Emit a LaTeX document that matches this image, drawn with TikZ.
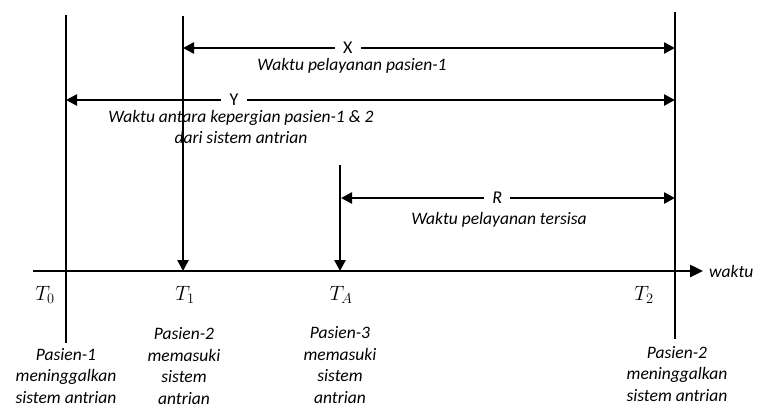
\documentclass[tikz,border=0pt]{standalone}
\usepackage{fontspec}
\setmainfont{Carlito}
\usetikzlibrary{arrows.meta}
\begin{document}
\begin{tikzpicture}[x=1pt,y=-1pt,
  vline/.style={line width=2.7pt},
  dimarrow/.style={line width=2.5pt,{Triangle[length=11pt,width=11pt]}-{Triangle[length=11pt,width=11pt]}},
  downarrow/.style={line width=2.5pt,-{Triangle[length=11pt,width=11pt]}},
  axisarrow/.style={line width=2.5pt,-{Triangle[length=13pt,width=12pt]}},
  lbl/.style={font=\fontsize{17.5}{21.7}\selectfont\itshape,align=center,inner sep=0pt},
  mid/.style={fill=white,font=\fontsize{18}{20}\selectfont,inner xsep=0pt,inner ysep=0pt,minimum width=26pt},
  tlbl/.style={font=\fontsize{20}{22}\selectfont,inner sep=0pt}]
\useasboundingbox (0,0) rectangle (765,408);
% key coordinates
\coordinate (t0top) at (66,15);
\coordinate (t0bot) at (66,343);
\coordinate (t1top) at (183,16);
\coordinate (t1ax) at (183,271);
\coordinate (tatop) at (340,165);
\coordinate (taax) at (340,271);
\coordinate (t2top) at (675,12);
\coordinate (t2bot) at (675,339);
\coordinate (axL) at (33,271);
\coordinate (axR) at (703,271);
\coordinate (xL) at (183,48);
\coordinate (xR) at (675,48);
\coordinate (yL) at (66,100);
\coordinate (yR) at (675,100);
\coordinate (rL) at (341,198);
\coordinate (rR) at (675,198);
% axis
\draw[axisarrow] (axL) -- (axR);
\node[lbl,anchor=west] (waktu) at (709,271) {waktu};
% descriptions (drawn before lines so lines pass over them)
\node[lbl] (xdesc) at (352,66) {Waktu pelayanan pasien-1};
\node[lbl] (ydesc) at (241,127) {Waktu antara kepergian pasien-1 \& 2\\dari sistem antrian};
\node[lbl] (rdesc) at (499,220) {Waktu pelayanan tersisa};
% verticals
\draw[vline] (t0top) -- (t0bot);
\draw[vline] (t2top) -- (t2bot);
\draw[downarrow] (t1top) -- (t1ax);
\draw[downarrow] (tatop) -- (taax);
% dimension arrows
\draw[dimarrow] (xL) -- node[mid,pos=0.335] (xlab) {X} (xR);
\draw[dimarrow] (yL) -- node[mid,pos=0.276] (ylab) {Y} (yR);
\draw[dimarrow] (rL) -- node[mid,pos=0.468,font=\fontsize{18}{20}\selectfont\itshape] (rlab) {R} (rR);
% time labels
\node[tlbl] (T0) at (45,295) {$T_0$};
\node[tlbl] (T1) at (185,295) {$T_1$};
\node[tlbl] (TA) at (341,295) {$T_A$};
\node[tlbl] (T2) at (644,295) {$T_2$};
% bottom labels
\node[lbl] (p1) at (66,376) {Pasien-1\\meninggalkan\\sistem antrian};
\node[lbl] (p2) at (184,366) {Pasien-2\\memasuki\\sistem\\antrian};
\node[lbl] (p3) at (340,365) {Pasien-3\\memasuki\\sistem\\antrian};
\node[lbl] (p4) at (677,374) {Pasien-2\\meninggalkan\\sistem antrian};
\end{tikzpicture}
\end{document}
